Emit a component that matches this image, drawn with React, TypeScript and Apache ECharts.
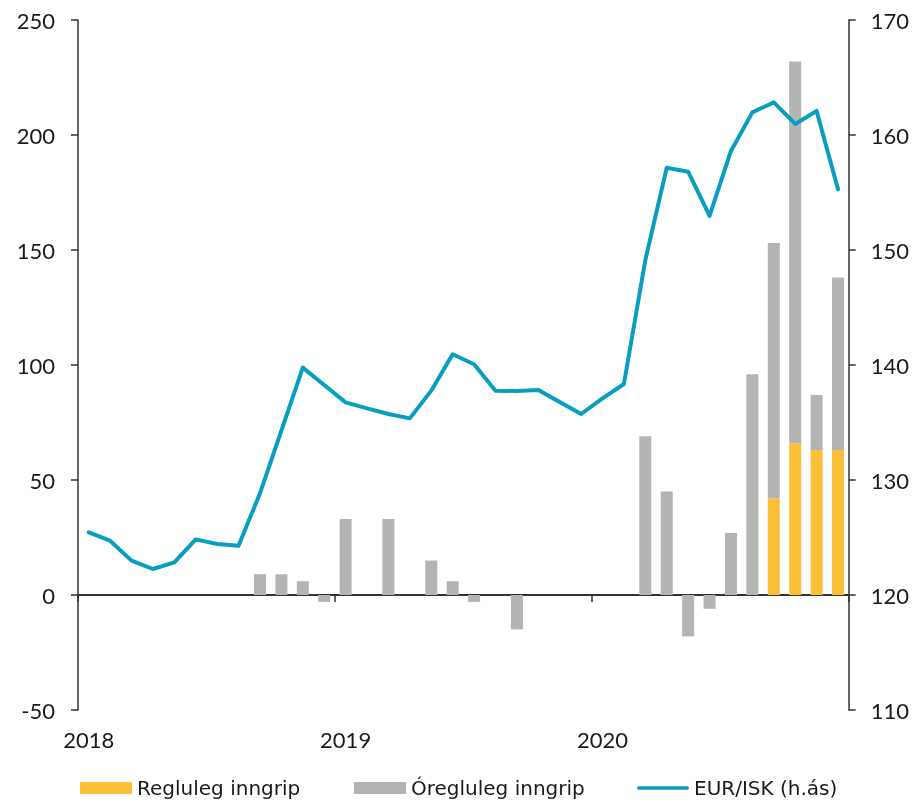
import React, { useEffect, useRef } from "react";
import * as echarts from "echarts";

const years = [2018, 2019, 2020];
const monthsPerYear = 12;
const categories: string[] = [];
years.forEach((y) => {
  for (let m = 1; m <= monthsPerYear; m++) categories.push(`${y}-${m < 10 ? "0" + m : m}`);
});

// Regluleg inngrip (ma.kr.)
const regular = [
  0, 0, 0, 0, 0, 0, 0, 0, 0, 0, 0, 0,
  0, 0, 0, 0, 0, 0, 0, 0, 0, 0, 0, 0,
  0, 0, 0, 0, 0, 0, 0, 0, 42, 66, 63, 63,
];

// Óregluleg inngrip (ma.kr.)
const irregular = [
  0, 0, 0, 0, 0, 0, 0, 0, 9, 9, 6, -3,
  33, 0, 33, 0, 15, 6, -3, 0, -15, 0, 0, 0,
  0, 0, 69, 45, -18, -6, 27, 96, 111, 166, 24, 75,
];

// EUR/ISK (hægri ás)
const eurisk = [
  125.45, 124.72, 122.99, 122.26, 122.84, 124.84, 124.43, 124.29, 128.84, 134.3, 139.77, 138.26,
  136.75, 136.23, 135.74, 135.36, 137.77, 140.93, 140.06, 137.77, 137.74, 137.83, 136.78, 135.74,
  137.1, 138.35, 149.13, 157.16, 156.81, 152.96, 158.61, 161.97, 162.84, 160.96, 162.09, 155.28,
];

const seriesNames = ["Regluleg inngrip", "Óregluleg inngrip", "EUR/ISK (h.ás)"];

const FONT = "Lato";
const LEGEND_FONT = "DejaVu Sans";
const TEXT = "#1a1a1a";
const AXIS = "#333333";
const YELLOW = "#fbc036";
const GRAY = "#b3b5b2";
const BLUE = "#079ec1";

export default function App() {
  const ref = useRef<HTMLDivElement>(null);
  useEffect(() => {
    if (!ref.current) return;
    const chart = echarts.init(ref.current, undefined, { renderer: "svg" });
    const yearTick = (i: number) => i % monthsPerYear === 0;
    const legendBase = {
      top: 773,
      itemWidth: 52,
      itemHeight: 12,
      itemGap: 0,
      textStyle: { fontFamily: LEGEND_FONT, fontSize: 20, color: TEXT },
    };
    chart.setOption({
      animation: false,
      textStyle: { fontFamily: FONT },
      grid: { left: 78, right: 61, top: 20, bottom: 93, containLabel: false },
      legend: [
        { ...legendBase, left: 75, data: [{ name: seriesNames[0], icon: "rect" }] },
        { ...legendBase, left: 349, data: [{ name: seriesNames[1], icon: "rect" }] },
        {
          ...legendBase,
          left: 632,
          data: [{ name: seriesNames[2], icon: "path://M2,0H54A2,2 0 0 1 54,4H2A2,2 0 0 1 2,0Z" }],
        },
      ],
      xAxis: [
        {
          type: "category",
          data: categories,
          position: "bottom",
          boundaryGap: true,
          axisLine: { show: false, onZero: false },
          axisTick: { show: false },
          axisLabel: {
            interval: (i: number) => yearTick(i),
            formatter: (v: string) => v.slice(0, 4),
            fontSize: 22,
            color: TEXT,
            fontFamily: FONT,
            margin: 18,
          },
          splitLine: { show: false },
        },
        {
          type: "category",
          data: categories,
          position: "top",
          boundaryGap: true,
          axisLine: { show: true, onZero: true, onZeroAxisIndex: 0, lineStyle: { color: AXIS, width: 2 } },
          axisTick: { show: true, inside: true, length: 7, interval: (i: number) => yearTick(i), lineStyle: { color: AXIS, width: 1.5 } },
          axisLabel: { show: false },
          splitLine: { show: false },
        },
      ],
      yAxis: [
        {
          type: "value",
          min: -50,
          max: 250,
          interval: 50,
          position: "left",
          axisLine: { show: true, lineStyle: { color: AXIS, width: 1.5 } },
          axisTick: { show: true, length: 7, lineStyle: { color: AXIS, width: 1.5 } },
          axisLabel: { fontSize: 22, color: TEXT, fontFamily: FONT, margin: 23 },
          splitLine: { show: false },
        },
        {
          type: "value",
          min: 110,
          max: 170,
          interval: 10,
          position: "right",
          axisLine: { show: true, lineStyle: { color: AXIS, width: 1.5 } },
          axisTick: { show: true, length: 7, lineStyle: { color: AXIS, width: 1.5 } },
          axisLabel: { fontSize: 22, color: TEXT, fontFamily: FONT, margin: 22 },
          splitLine: { show: false },
        },
      ],
      series: [
        {
          name: seriesNames[0],
          type: "bar",
          stack: "inngrip",
          xAxisIndex: 0,
          yAxisIndex: 0,
          barWidth: 12,
          data: regular,
          itemStyle: { color: YELLOW },
        },
        {
          name: seriesNames[1],
          type: "bar",
          stack: "inngrip",
          xAxisIndex: 0,
          yAxisIndex: 0,
          barWidth: 12,
          data: irregular,
          itemStyle: { color: GRAY },
        },
        {
          name: seriesNames[2],
          type: "line",
          xAxisIndex: 0,
          yAxisIndex: 1,
          data: eurisk,
          symbol: "none",
          showSymbol: false,
          lineStyle: { color: BLUE, width: 4, join: "round", cap: "round" },
          itemStyle: { color: BLUE },
          z: 5,
        },
      ],
    });
    return () => chart.dispose();
  }, []);
  return (
    <div
      ref={ref}
      style={{ position: "fixed", left: 0, top: 0, width: 912, height: 803 }}
    />
  );
}
